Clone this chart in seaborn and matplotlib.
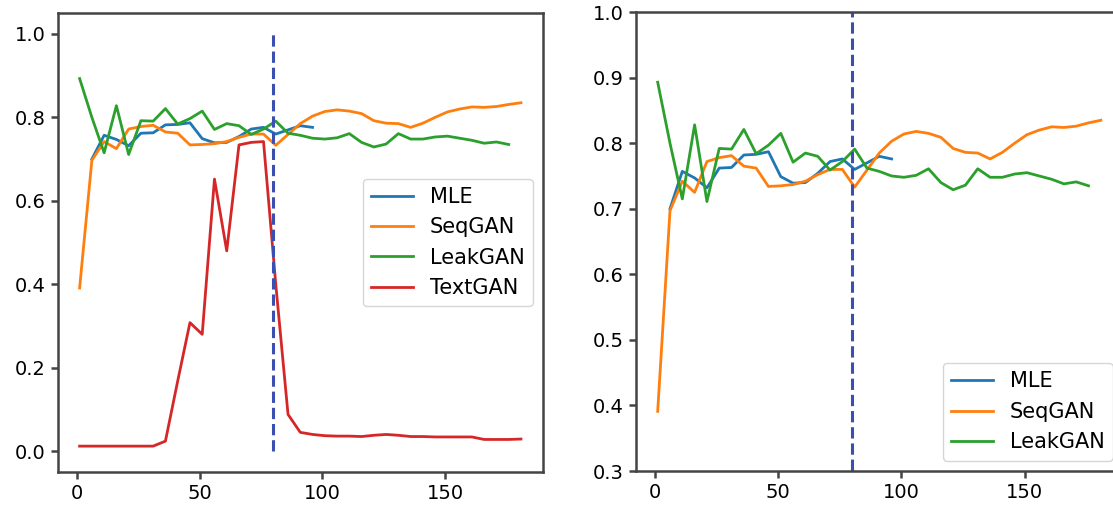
import numpy as np
import pandas as pd
import matplotlib
matplotlib.use("Agg")
import matplotlib.pyplot as plt
import seaborn as sns

# epochs sampled every 5 steps
EPOCHS = list(range(1, 182, 5))

MLE = [np.nan, 0.700, 0.757, 0.747, 0.732, 0.762, 0.763, 0.782, 0.783, 0.787,
       0.749, 0.739, 0.740, 0.754, 0.772, 0.776, 0.760, 0.770, 0.780, 0.776]
SEQGAN = [0.391, 0.697, 0.742, 0.725, 0.772, 0.778, 0.781, 0.765, 0.762, 0.734,
          0.735, 0.737, 0.742, 0.752, 0.760, 0.760, 0.733, 0.759, 0.785, 0.803,
          0.814, 0.818, 0.815, 0.809, 0.792, 0.786, 0.785, 0.776, 0.786, 0.800,
          0.813, 0.820, 0.825, 0.824, 0.826, 0.831, 0.835]
LEAKGAN = [0.893, 0.800, 0.715, 0.828, 0.711, 0.792, 0.791, 0.821, 0.784, 0.797,
           0.815, 0.771, 0.785, 0.780, 0.759, 0.772, 0.791, 0.762, 0.757, 0.750,
           0.748, 0.751, 0.761, 0.740, 0.729, 0.736, 0.761, 0.748, 0.748, 0.753,
           0.755, 0.750, 0.745, 0.738, 0.741, 0.735]
TEXTGAN = [0.012, 0.012, 0.012, 0.012, 0.012, 0.012, 0.012, 0.024, 0.168, 0.308,
           0.280, 0.652, 0.480, 0.734, 0.740, 0.742, 0.400, 0.088, 0.045, 0.040,
           0.037, 0.036, 0.036, 0.035, 0.038, 0.040, 0.038, 0.035, 0.035, 0.034,
           0.034, 0.034, 0.034, 0.028, 0.028, 0.028, 0.029]

MODELS = ["MLE", "SeqGAN", "LeakGAN", "TextGAN"]
COLORS = {"MLE": "#1f77b4", "SeqGAN": "#ff7f0e", "LeakGAN": "#2ca02c", "TextGAN": "#d62728"}
SPLIT_EPOCH = 80


def to_long(series):
    rows = []
    for name, vals in series.items():
        for ep, v in zip(EPOCHS, vals):
            if not np.isnan(v):
                rows.append({"epoch": ep, "value": v, "model": name})
    return pd.DataFrame(rows)


def draw(ax, df, order, legend_loc):
    sns.lineplot(data=df, x="epoch", y="value", hue="model", hue_order=order,
                 palette=COLORS, linewidth=2.0, errorbar=None, ax=ax)
    ax.vlines(SPLIT_EPOCH, 0, 1, colors="#3a4fb0", linestyles="--", linewidth=2.2)
    ax.set_xlabel("")
    ax.set_ylabel("")
    ax.set_xticks([0, 50, 100, 150])
    ax.tick_params(labelsize=14, length=5, width=1.8, color="#444444")
    for sp in ax.spines.values():
        sp.set_linewidth(1.8)
        sp.set_color("#444444")
    leg = ax.get_legend()
    handles = leg.legend_handles
    labels = [t.get_text() for t in leg.get_texts()]
    leg.remove()
    for h in handles:
        h.set_linewidth(2.0)
    ax.legend(handles, labels, loc=legend_loc, fontsize=15)


plt.rcParams["font.family"] = ["DejaVu Sans"]

fig = plt.figure(figsize=(11.13, 5.18), dpi=100)
ax1 = fig.add_axes([0.0517, 0.0888, 0.4362, 0.886])
ax2 = fig.add_axes([0.571, 0.0907, 0.438, 0.886])

left = to_long({"MLE": MLE, "SeqGAN": SEQGAN, "LeakGAN": LEAKGAN, "TextGAN": TEXTGAN})
draw(ax1, left, MODELS, "center right")
ax1.set_yticks([0.0, 0.2, 0.4, 0.6, 0.8, 1.0])

right = to_long({"MLE": MLE, "SeqGAN": SEQGAN, "LeakGAN": LEAKGAN})
draw(ax2, right, MODELS[:3], "lower right")
ax2.set_ylim(0.3, 1.0)

fig.savefig("out.png", dpi=100)
